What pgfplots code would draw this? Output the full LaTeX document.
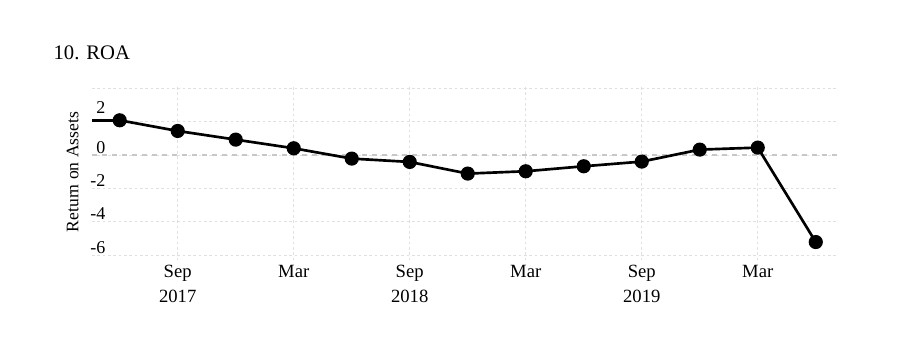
\documentclass[border=0pt]{standalone}
\usepackage{fontspec}
\setmainfont{Liberation Serif}
\usepackage{pgfplots}
\pgfplotsset{compat=1.18}
\begin{document}
\begin{tikzpicture}
\path[use as bounding box] (0,0) rectangle (685.5pt,270pt);
\node[anchor=base west, inner sep=0pt, font=\fontsize{15.5}{18}\selectfont] at (40pt,225pt) {10. ROA};
\node[rotate=90, inner sep=0pt, font=\fontsize{13.2}{15.6}\selectfont] at (54.4pt,141pt) {Return on Assets};
\begin{axis}[
 at={(69pt,74.85pt)}, anchor=south west,
 scale only axis, width=559.5pt, height=129.9pt,
 xmin=-4.433, xmax=34.15, ymin=-6.3, ymax=4.1,
 axis line style={draw=none}, tick style={draw=none},
 xtick={0,6,12,18,24,30},
 xticklabels={{Sep\\[2.2pt]2017},Mar,{Sep\\[2.2pt]2018},Mar,{Sep\\[2.2pt]2019},Mar},
 xticklabel style={align=center, anchor=north, font=\fontsize{14}{16.8}\selectfont, inner sep=0pt, yshift=-3.6pt},
 ytick={-6,-4,-2,0,2,4}, yticklabels={-6,-4,-2,0,\raisebox{4.5pt}{2},{}},
 yticklabel style={anchor=base east, inner sep=0pt, xshift=10.2pt, yshift=1.5pt, font=\fontsize{13.5}{16}\selectfont},
 grid=major, grid style={color=black!12, line width=0.75pt, dash pattern=on 2pt off 2pt},
 clip=false,
]
\addplot[forget plot, color=black!22, line width=1.5pt, dash pattern=on 4pt off 3.5pt] coordinates {(-4.433,0) (34.15,0)};
\addplot[forget plot, black, line width=2pt] coordinates {(-4.433,2.10) (-3,2.10)};
\addplot[black, line width=2pt, mark=*, mark size=4.3pt, mark options={solid, fill=black}] coordinates {
(-3,2.10) (0,1.46) (3,0.94) (6,0.42) (9,-0.20) (12,-0.40) (15,-1.10) (18,-0.96) (21,-0.66) (24,-0.38) (27,0.34) (30,0.46) (33,-5.21)
};
\end{axis}
\end{tikzpicture}
\end{document}
